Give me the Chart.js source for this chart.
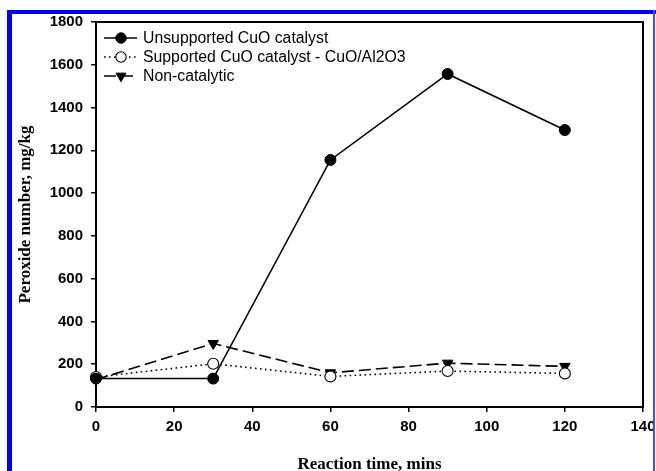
<!DOCTYPE html>
<html>
<head>
<meta charset="utf-8">
<script src="https://cdn.jsdelivr.net/npm/chart.js@4.4.1/dist/chart.umd.min.js"></script>
<style>
  html, body { margin: 0; padding: 0; background: #fff; }
  #wrap { position: relative; width: 656px; height: 471px; overflow: hidden; background: #fff; }
  #bTop { position: absolute; left: 7px; top: 10px; width: 649px; height: 4px; background: #0000ff; }
  #bLeft { position: absolute; left: 7px; top: 10px; width: 5px; height: 461px; background: #0000ff; }
  #bRight { position: absolute; left: 653px; top: 10px; width: 2px; height: 461px; background: #4a4aff; }
  #c { position: absolute; left: 0; top: 0; }
</style>
</head>
<body>
<div id="wrap">
  <canvas id="c" width="656" height="471"></canvas>
  <div id="bTop"></div>
  <div id="bLeft"></div>
  <div id="bRight"></div>
</div>
<script>
// ---- data ----
const times = [0, 30, 60, 90, 120];
const unsupported = [133, 133, 1155, 1557, 1295];
const supported = [140, 202, 143, 168, 157];
const nonCatalytic = [128, 297, 160, 205, 190];
const seriesLabels = ['Unsupported CuO catalyst', 'Supported CuO catalyst - CuO/Al2O3', 'Non-catalytic'];
const xTicks = [0, 20, 40, 60, 80, 100, 120, 140];
const yTicks = [0, 200, 400, 600, 800, 1000, 1200, 1400, 1600, 1800];

const toPts = arr => times.map((t, i) => ({ x: t, y: arr[i] }));

function drawMarker(ctx, ds, x, y, scale) {
  ctx.save();
  ctx.lineWidth = ds.pointBorderWidth;
  ctx.strokeStyle = ds.pointBorderColor;
  ctx.fillStyle = ds.pointBackgroundColor;
  ctx.setLineDash([]);
  const r = ds.pointRadius * scale;
  ctx.beginPath();
  if (ds.pointStyle === 'triangle') {
    const h = r * 1.5, w = r * 0.87;
    ctx.moveTo(x - w, y - h / 3);
    ctx.lineTo(x + w, y - h / 3);
    ctx.lineTo(x, y + h * 2 / 3);
    ctx.closePath();
  } else {
    ctx.arc(x, y, r, 0, Math.PI * 2);
  }
  ctx.fill();
  ctx.stroke();
  ctx.restore();
}

const framePlugin = {
  id: 'frame',
  beforeDatasetsDraw(chart) {
    const { ctx, chartArea: a } = chart;
    ctx.save();
    ctx.strokeStyle = '#000';
    ctx.lineWidth = 2;
    ctx.strokeRect(a.left, a.top, a.right - a.left, a.bottom - a.top);
    ctx.restore();
  },
  afterDraw(chart) {
    const { ctx, chartArea: a } = chart;
    const rows = [16, 35, 54];
    chart.data.datasets.forEach((ds, i) => {
      const y = a.top + rows[i];
      const x0 = a.left + 8, x1 = a.left + 41, xm = a.left + 25;
      ctx.save();
      ctx.strokeStyle = ds.borderColor;
      ctx.lineWidth = ds.borderWidth;
      ctx.setLineDash(ds.borderDash || []);
      ctx.beginPath();
      ctx.moveTo(x0, y);
      ctx.lineTo(x1, y);
      ctx.stroke();
      ctx.restore();
      drawMarker(ctx, ds, xm, y, 0.95);
      ctx.save();
      ctx.fillStyle = '#000';
      ctx.font = '15.8px "Liberation Sans", Arial, sans-serif';
      ctx.textBaseline = 'middle';
      ctx.textAlign = 'left';
      ctx.fillText(ds.label, a.left + 47, y + 1);
      ctx.restore();
    });
  }
};

const tickFont = { family: '"Liberation Sans", Arial, sans-serif', size: 15, weight: 'bold' };
const titleFont = { family: '"Liberation Serif", "Times New Roman", serif', size: 17, weight: 'bold', lineHeight: 1.0 };

new Chart(document.getElementById('c'), {
  type: 'line',
  data: {
    datasets: [
      {
        label: seriesLabels[0], data: toPts(unsupported),
        borderColor: '#000', borderWidth: 1.6, borderDash: [],
        pointStyle: 'circle', pointRadius: 5.5, pointBackgroundColor: '#000',
        pointBorderColor: '#000', pointBorderWidth: 1, clip: false
      },
      {
        label: seriesLabels[1], data: toPts(supported),
        borderColor: '#000', borderWidth: 1.6, borderDash: [1.6, 3.4],
        pointStyle: 'circle', pointRadius: 5.5, pointBackgroundColor: '#fff',
        pointBorderColor: '#000', pointBorderWidth: 1.1, clip: false
      },
      {
        label: seriesLabels[2], data: toPts(nonCatalytic),
        borderColor: '#000', borderWidth: 1.6, borderDash: [12, 5],
        pointStyle: 'triangle', pointRotation: 180, pointRadius: 6, pointBackgroundColor: '#000',
        pointBorderColor: '#000', pointBorderWidth: 1, clip: false
      }
    ]
  },
  options: {
    responsive: false,
    animation: false,
    devicePixelRatio: 1,
    layout: { padding: { left: 0, right: 13, top: 22, bottom: 0 } },
    plugins: { legend: { display: false }, tooltip: { enabled: false } },
    elements: { line: { tension: 0 } },
    scales: {
      x: {
        type: 'linear', min: 0, max: 140,
        afterBuildTicks: s => { s.ticks = xTicks.map(v => ({ value: v })); },
        afterFit: s => { s.height = 64; s.paddingLeft = 0; s.paddingRight = 0; },
        ticks: { font: tickFont, color: '#000', padding: 6, maxRotation: 0, callback: v => String(v) },
        grid: { display: true, drawOnChartArea: false, drawTicks: true, tickLength: 5, color: '#000', lineWidth: 1.5 },
        border: { display: true, color: '#000', width: 2 },
        title: { display: true, text: 'Reaction time, mins', font: titleFont, color: '#000', padding: { top: 0, bottom: -2 } }
      },
      y: {
        type: 'linear', min: 0, max: 1800,
        afterBuildTicks: s => { s.ticks = yTicks.map(v => ({ value: v })); },
        afterFit: s => { s.width = 96; s.paddingTop = 0; s.paddingBottom = 0; },
        ticks: { font: tickFont, color: '#000', padding: 8, callback: v => String(v) },
        grid: { display: true, drawOnChartArea: false, drawTicks: true, tickLength: 5, color: '#000', lineWidth: 1.5 },
        border: { display: true, color: '#000', width: 2 },
        title: { display: true, text: 'Peroxide number, mg/kg', font: titleFont, color: '#000', padding: { top: 17, bottom: 0 } }
      }
    }
  },
  plugins: [framePlugin]
});
</script>
</body>
</html>
